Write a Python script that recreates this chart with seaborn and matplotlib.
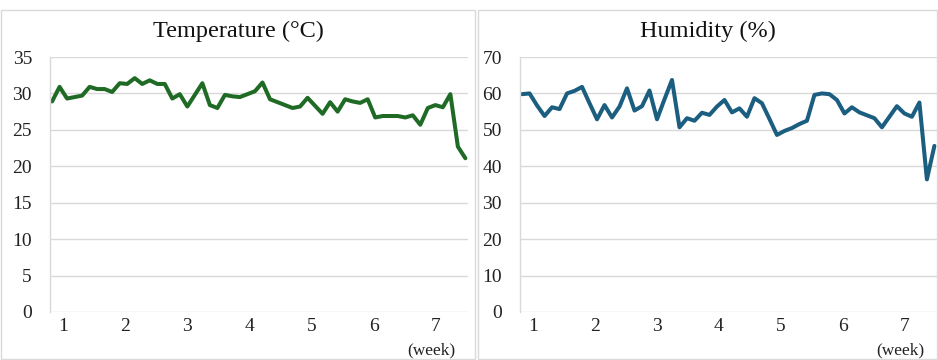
import numpy as np
import pandas as pd
import matplotlib
matplotlib.use("Agg")
import matplotlib.pyplot as plt
import seaborn as sns
from matplotlib.patches import Rectangle

# ---- data ----
week_ticks = [1, 2, 3, 4, 5, 6, 7]
temperature = [28.9, 30.9, 29.3, 29.5, 29.7, 30.9, 30.6, 30.6, 30.2, 31.4,
               31.3, 32.1, 31.3, 31.8, 31.3, 31.3, 29.3, 29.9, 28.2, 29.8,
               31.4, 28.4, 28.0, 29.8, 29.6, 29.5, 29.9, 30.3, 31.5, 29.2,
               28.8, 28.4, 28.0, 28.2, 29.4, 28.3, 27.2, 28.8, 27.5, 29.2,
               28.9, 28.7, 29.2, 26.7, 26.9, 26.9, 26.9, 26.7, 27.0, 25.7,
               28.0, 28.4, 28.1, 29.9, 22.7, 21.1]
humidity = [59.8, 60.0, 56.7, 53.8, 56.2, 55.7, 60.0, 60.7, 61.8, 57.3,
            52.9, 56.8, 53.4, 56.4, 61.4, 55.3, 56.5, 60.8, 52.9, 58.4,
            63.7, 50.7, 53.2, 52.5, 54.7, 54.1, 56.4, 58.2, 54.8, 55.9,
            53.6, 58.7, 57.3, 53.0, 48.6, 49.7, 50.5, 51.6, 52.5, 59.6,
            60.0, 59.8, 58.2, 54.5, 56.2, 54.8, 54.0, 53.2, 50.7, 53.6,
            56.5, 54.5, 53.6, 57.5, 36.4, 45.6]

n = len(temperature)
x_week = 0.823 + np.arange(n) * 0.121
df_t = pd.DataFrame({"week": x_week, "value": temperature})
df_h = pd.DataFrame({"week": x_week, "value": humidity})

sns.set_style("white")
plt.rcParams["font.family"] = ["Liberation Serif", "DejaVu Serif"]

W, H = 938, 360
fig = plt.figure(figsize=(W / 100, H / 100), dpi=100)
fig.patch.set_facecolor("white")

# panel borders
panels = [(1, 475), (478, 937)]
for x0, x1 in panels:
    fig.patches.append(Rectangle((x0 / W, 1 / H), (x1 - x0) / W, (349) / H,
                                 transform=fig.transFigure, fill=False,
                                 edgecolor="#d9d9d9", linewidth=1.0))

ax1 = fig.add_axes([50 / W, (H - 312) / H, (468 - 50) / W, (312 - 57) / H])
ax2 = fig.add_axes([520 / W, (H - 312) / H, (937 - 520) / W, (312 - 57) / H])

specs = [
    (ax1, df_t, "#1f6b25", "Temperature (°C)", 35, 5, panels[0]),
    (ax2, df_h, "#1b5e80", "Humidity (%)", 70, 10, panels[1]),
]
for ax, df, col, title, ymax, step, (p0, p1) in specs:
    sns.lineplot(data=df, x="week", y="value", ax=ax, color=col, linewidth=2.9)
    ax.set_xlim(0.79, 7.52)
    ax.set_ylim(0, ymax)
    ax.set_yticks(np.arange(0, ymax + 0.1, step))
    ax.set_xticks(week_ticks)
    ax.set_xticklabels([str(w) for w in week_ticks])
    ax.grid(axis="y", color="#d9d9d9", linewidth=1.0)
    ax.set_axisbelow(True)
    for s in ["top", "right", "bottom"]:
        ax.spines[s].set_visible(False)
    ax.spines["left"].set_color("#d9d9d9")
    ax.spines["left"].set_linewidth(1.0)
    ax.tick_params(axis="both", length=0, labelsize=14, colors="#222222")
    ax.tick_params(axis="x", pad=4)
    ax.tick_params(axis="y", pad=13)
    ax.set_xlabel("")
    ax.set_ylabel("")
    fig.text((p0 + p1) / 2 / W, 1 - 31 / H, title, ha="center", va="center",
             fontsize=17.5, color="#111111")
    ax.annotate("(week)", xy=(7, 0), xycoords=("data", "axes fraction"),
                xytext=(-3, -33.5), textcoords="offset points",
                ha="center", va="bottom", fontsize=12.5, color="#222222")

fig.savefig("out.png", dpi=100, facecolor="white")
